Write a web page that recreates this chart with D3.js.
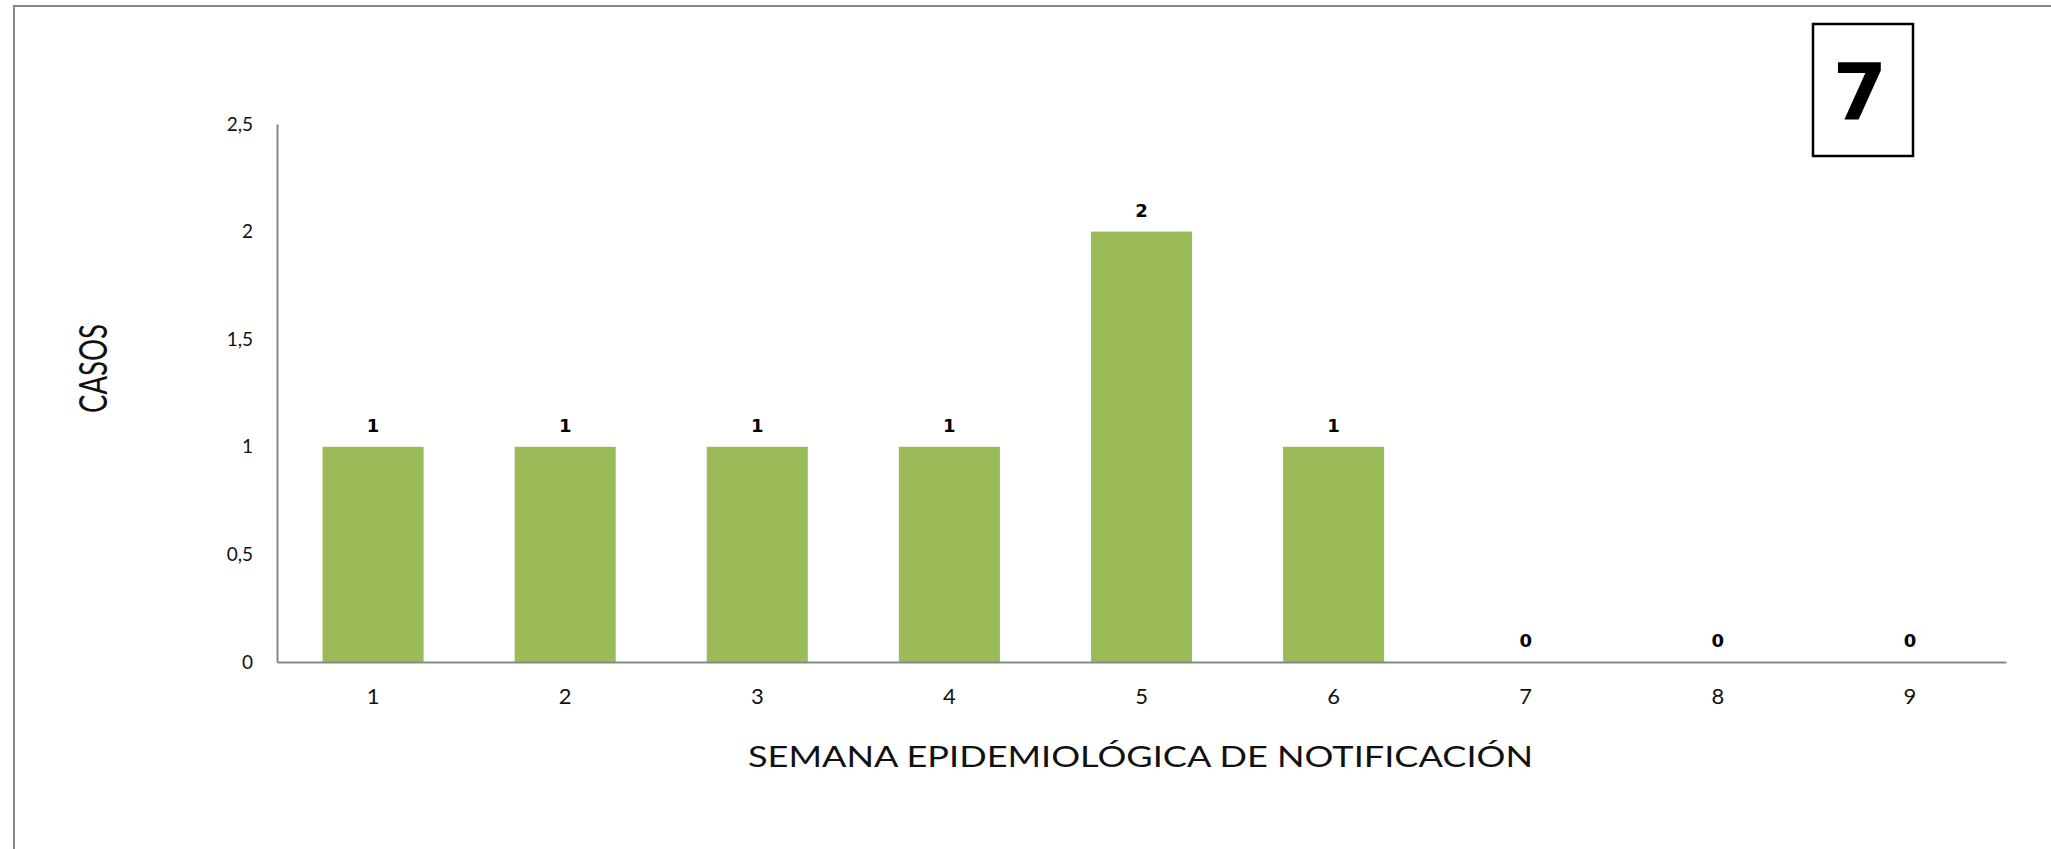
<!DOCTYPE html>
<html>
<head>
<meta charset="utf-8">
<script src="https://cdn.jsdelivr.net/npm/d3@7"></script>
<style>
  body { margin: 0; background: #fff; }
  svg { display: block; }
</style>
</head>
<body>
<div id="chart"></div>
<script>
const semanas = ["1", "2", "3", "4", "5", "6", "7", "8", "9"];
const casos = [1, 1, 1, 1, 2, 1, 0, 0, 0];
const yTicks = [0, 0.5, 1, 1.5, 2, 2.5];
const panelNumber = "7";

const width = 2051, height = 849;
const margin = {left: 277, right: 45, top: 124, bottom: 187};

const svg = d3.select("#chart").append("svg")
    .attr("width", width)
    .attr("height", height);

// frame (left + top only visible)
svg.append("path")
    .attr("d", `M14,${height} L14,6 L${width},6`)
    .attr("fill", "none")
    .attr("stroke", "#878787")
    .attr("stroke-width", 2);

const x = d3.scaleBand()
    .domain(semanas)
    .range([margin.left, width - margin.right])
    .paddingInner(0.474)
    .paddingOuter(0.237);

const y = d3.scaleLinear()
    .domain([0, 2.5])
    .range([height - margin.bottom, margin.top]);

const fmt = d => String(d).replace(".", ",");

// bars
svg.append("g").selectAll("rect")
    .data(casos)
    .enter().append("rect")
    .attr("x", (d, i) => x(semanas[i]))
    .attr("y", d => y(d))
    .attr("width", x.bandwidth())
    .attr("height", d => y(0) - y(d))
    .attr("fill", "#9BBB59");

// value labels
svg.append("g").selectAll("text")
    .data(casos)
    .enter().append("text")
    .attr("x", (d, i) => x(semanas[i]) + x.bandwidth() / 2)
    .attr("y", d => y(d) - 15)
    .attr("text-anchor", "middle")
    .style("font-family", "'DejaVu Sans', Verdana, sans-serif")
    .style("font-weight", "bold")
    .style("font-size", "18px")
    .attr("fill", "#000")
    .text(d => d);

// y axis
const yAxis = svg.append("g")
    .attr("transform", `translate(${margin.left},0)`)
    .call(d3.axisLeft(y).tickValues(yTicks).tickFormat(fmt).tickSize(0).tickSizeOuter(0).tickPadding(24));
yAxis.select(".domain").attr("stroke", "#878787").attr("stroke-width", 2);
yAxis.selectAll("text")
    .style("font-family", "Lato, sans-serif")
    .style("font-size", "19px")
    .attr("fill", "#111");

// x axis
const xAxis = svg.append("g")
    .attr("transform", `translate(0,${y(0)})`)
    .call(d3.axisBottom(x).tickSize(0).tickSizeOuter(0).tickPadding(26));
xAxis.select(".domain").attr("stroke", "#878787").attr("stroke-width", 2);
xAxis.selectAll("text")
    .style("font-family", "Lato, sans-serif")
    .style("font-size", "22px")
    .attr("fill", "#111");

// axis titles
svg.append("text")
    .attr("x", 1140.5)
    .attr("y", 767)
    .attr("text-anchor", "middle")
    .attr("textLength", 785)
    .attr("lengthAdjust", "spacingAndGlyphs")
    .style("font-family", "Lato, sans-serif")
    .style("font-size", "28px")
    .attr("fill", "#111")
    .text("SEMANA EPIDEMIOLÓGICA DE NOTIFICACIÓN");

svg.append("text")
    .attr("transform", "translate(107,368.5) rotate(-90) scale(1,1.4)")
    .attr("text-anchor", "middle")
    .attr("textLength", 89)
    .attr("lengthAdjust", "spacingAndGlyphs")
    .style("font-family", "Lato, sans-serif")
    .style("font-size", "28px")
    .attr("fill", "#111")
    .text("CASOS");

// panel number box
svg.append("rect")
    .attr("x", 1813)
    .attr("y", 24)
    .attr("width", 100)
    .attr("height", 132)
    .attr("fill", "#fff")
    .attr("stroke", "#000")
    .attr("stroke-width", 2.5);

svg.append("text")
    .attr("x", 1860)
    .attr("y", 119)
    .attr("text-anchor", "middle")
    .style("font-family", "'DejaVu Sans', Verdana, sans-serif")
    .style("font-weight", "bold")
    .style("font-size", "78px")
    .attr("fill", "#000")
    .text(panelNumber);
</script>
</body>
</html>
